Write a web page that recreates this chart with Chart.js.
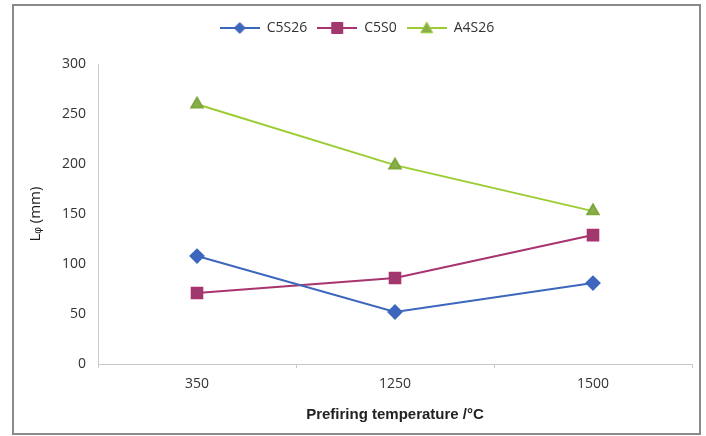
<!DOCTYPE html>
<html>
<head>
<meta charset="utf-8">
<script src="https://cdn.jsdelivr.net/npm/chart.js@4/dist/chart.umd.min.js"></script>
<style>
  html, body { margin: 0; padding: 0; background: #fff; }
  #wrap { position: relative; width: 706px; height: 436px; }
</style>
</head>
<body>
<div id="wrap"><canvas id="myChart" width="706" height="436"></canvas></div>
<script>
const temps = ["350", "1250", "1500"];
const c5s26 = [108, 52, 81];
const c5s0 = [71, 86, 129];
const a4s26 = [260, 199, 153];
const yTicks = [0, 50, 100, 150, 200, 250, 300];

const FONT = "'Open Sans', sans-serif";

// small legend icon: a line with the marker in the middle
function legendIcon(color, fill, style, r) {
    const c = document.createElement("canvas");
    c.width = 40;
    c.height = 16;
    const g = c.getContext("2d");
    g.strokeStyle = color;
    g.lineWidth = 2;
    g.beginPath();
    g.moveTo(0, 8);
    g.lineTo(40, 8);
    g.stroke();
    g.fillStyle = fill;
    g.lineWidth = 1;
    g.beginPath();
    if (style === "rectRot") {
        g.moveTo(20 - r, 8); g.lineTo(20, 8 - r); g.lineTo(20 + r, 8); g.lineTo(20, 8 + r);
    } else if (style === "rect") {
        g.rect(20 - r, 8 - r, 2 * r, 2 * r);
    } else {
        g.moveTo(20, 8 - r); g.lineTo(20 + r, 8 + r * 0.8); g.lineTo(20 - r, 8 + r * 0.8);
    }
    g.closePath();
    g.fill();
    g.stroke();
    return c;
}

const frame = {
    id: "frame",
    beforeDraw(chart) {
        const g = chart.ctx;
        g.save();
        g.strokeStyle = "#8a8a8a";
        g.lineWidth = 2;
        g.strokeRect(13, 5, 687, 429);
        g.restore();
    }
};

const ctx = document.getElementById("myChart");

new Chart(ctx, {
    type: "line",
    data: {
        labels: temps,
        datasets: [
            {
                label: "C5S26",
                data: c5s26,
                borderColor: "#3d66bd",
                backgroundColor: "#3d66bd",
                borderWidth: 2,
                pointStyle: "rectRot",
                pointRadius: 6.5,
                pointBorderColor: "#3d66bd",
                pointBackgroundColor: "#3d66bd",
                tension: 0
            },
            {
                label: "C5S0",
                data: c5s0,
                borderColor: "#a8336f",
                backgroundColor: "#9e3a6e",
                borderWidth: 2,
                pointStyle: "rect",
                pointRadius: 7.5,
                pointBorderColor: "#a8336f",
                pointBackgroundColor: "#9e3a6e",
                tension: 0
            },
            {
                label: "A4S26",
                data: a4s26,
                borderColor: "#9acd32",
                backgroundColor: "#8aae4c",
                borderWidth: 2,
                pointStyle: "triangle",
                pointRadius: 6.5,
                pointBorderColor: "#7fa83a",
                pointBackgroundColor: "#8aae4c",
                tension: 0
            }
        ]
    },
    options: {
        responsive: false,
        animation: false,
        layout: {
            padding: { left: 22, right: 14, top: 11, bottom: 0 }
        },
        scales: {
            x: {
                offset: true,
                grid: {
                    offset: true,
                    drawOnChartArea: false,
                    drawTicks: true,
                    tickLength: 4,
                    color: "#c8c8c8"
                },
                border: { color: "#c8c8c8", width: 1 },
                ticks: {
                    color: "#333",
                    font: { family: FONT, size: 14 },
                    padding: 8,
                    maxRotation: 0
                },
                title: {
                    display: true,
                    text: "Prefiring temperature /°C",
                    color: "#222",
                    font: { family: "'Liberation Sans', Arial, sans-serif", size: 15, weight: "bold" },
                    padding: { top: 6, bottom: 12 }
                },
                afterFit(scale) { scale.height = 72; }
            },
            y: {
                min: 0,
                max: 300,
                afterBuildTicks(scale) { scale.ticks = yTicks.map(v => ({ value: v })); },
                grid: {
                    drawOnChartArea: false,
                    drawTicks: false
                },
                border: { color: "#c8c8c8", width: 1 },
                ticks: {
                    color: "#333",
                    font: { family: FONT, size: 14 },
                    padding: 12
                },
                title: {
                    display: true,
                    text: "Lᵩ (mm)",
                    color: "#222",
                    font: { family: FONT, size: 15 },
                    padding: { top: 5, bottom: 0 }
                },
                afterFit(scale) { scale.width = 76; }
            }
        },
        plugins: {
            // empty title used as a spacer between legend and plot
            title: {
                display: true,
                text: "",
                weight: 100,
                font: { size: 1 },
                padding: { top: 18, bottom: 0 }
            },
            legend: {
                position: "top",
                align: "center",
                labels: {
                    usePointStyle: true,
                    pointStyleWidth: 40,
                    boxHeight: 14,
                    padding: 10,
                    color: "#333",
                    font: { family: FONT, size: 14 },
                    generateLabels(chart) {
                        return chart.data.datasets.map((ds, i) => ({
                            text: ds.label,
                            pointStyle: legendIcon(ds.borderColor, ds.pointBackgroundColor, ds.pointStyle, ds.pointStyle === "triangle" ? 6 : 5.5),
                            fillStyle: ds.borderColor,
                            strokeStyle: ds.borderColor,
                            lineWidth: 0,
                            hidden: false,
                            datasetIndex: i,
                            fontColor: "#333"
                        }));
                    }
                }
            },
            tooltip: { enabled: false }
        }
    },
    plugins: [frame]
});
</script>
</body>
</html>
